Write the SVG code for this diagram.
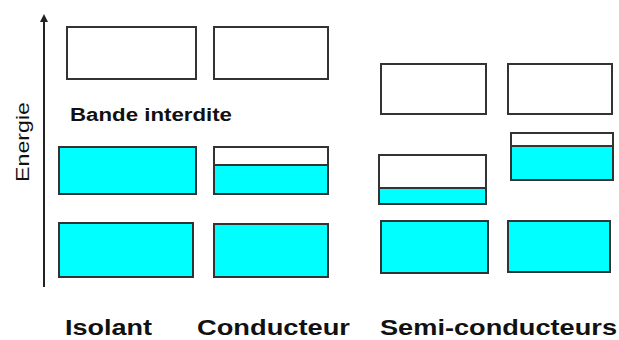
<svg xmlns="http://www.w3.org/2000/svg" width="619" height="340" viewBox="0 0 619 340">
  <style>
    .band { stroke: #333333; stroke-width: 2; }
    .empty { fill: #ffffff; }
    .full { fill: #00ffff; }
    .lbl { font-family: "Liberation Sans", Arial, sans-serif; font-weight: bold; fill: #111111; }
    .axis { stroke: #222222; stroke-width: 2; fill: none; }
  </style>
  <defs>
    <marker id="arrowhead" markerWidth="8" markerHeight="8" refX="4" refY="4" orient="auto" markerUnits="userSpaceOnUse">
      <path d="M0,0 L8,4 L0,8 Z" fill="#222222"/>
    </marker>
  </defs>
  <rect width="619" height="340" fill="#ffffff"/>

  <!-- energy axis -->
  <g id="connectors">
    <line class="axis" x1="44" y1="287" x2="44" y2="18" marker-end="url(#arrowhead)"/>
  </g>
  <text id="energie" class="lbl" style="font-weight:normal" transform="translate(29,182) rotate(-90)" font-size="19" textLength="80" lengthAdjust="spacingAndGlyphs">Energie</text>

  <text id="bande-interdite" class="lbl" x="70" y="121" font-size="18" textLength="162" lengthAdjust="spacingAndGlyphs">Bande interdite</text>

  <!-- Isolant -->
  <g id="isolant-conduction"><rect class="band empty" x="67" y="27" width="129" height="52"/></g>
  <g id="isolant-valence"><rect class="band full" x="59" y="147" width="137" height="47"/></g>
  <g id="isolant-core"><rect class="band full" x="59" y="223" width="134" height="54"/></g>

  <!-- Conducteur -->
  <g id="conducteur-conduction"><rect class="band empty" x="214" y="27" width="114" height="52"/></g>
  <g id="conducteur-valence">
    <rect class="band empty" x="214" y="147" width="114" height="47"/>
    <rect class="band full" x="214" y="165" width="114" height="29"/>
  </g>
  <g id="conducteur-core"><rect class="band full" x="214" y="224" width="114" height="53"/></g>

  <!-- Semi-conducteurs -->
  <g id="semi1-conduction"><rect class="band empty" x="381" y="64" width="105" height="50"/></g>
  <g id="semi1-valence">
    <rect class="band empty" x="379" y="155" width="107" height="49"/>
    <rect class="band full" x="379" y="188" width="107" height="16"/>
  </g>
  <g id="semi1-core"><rect class="band full" x="381" y="221" width="107" height="52"/></g>

  <g id="semi2-conduction"><rect class="band empty" x="508" y="64" width="104" height="50"/></g>
  <g id="semi2-valence">
    <rect class="band empty" x="511" y="133" width="102" height="47"/>
    <rect class="band full" x="511" y="146" width="102" height="34"/>
  </g>
  <g id="semi2-core"><rect class="band full" x="508" y="221" width="102" height="51"/></g>

  <!-- category labels -->
  <text id="lbl-isolant" class="lbl" x="65" y="335" font-size="22" textLength="87" lengthAdjust="spacingAndGlyphs">Isolant</text>
  <text id="lbl-conducteur" class="lbl" x="197" y="335" font-size="22" textLength="153" lengthAdjust="spacingAndGlyphs">Conducteur</text>
  <text id="lbl-semi" class="lbl" x="380" y="335" font-size="22" textLength="237" lengthAdjust="spacingAndGlyphs">Semi-conducteurs</text>
</svg>
